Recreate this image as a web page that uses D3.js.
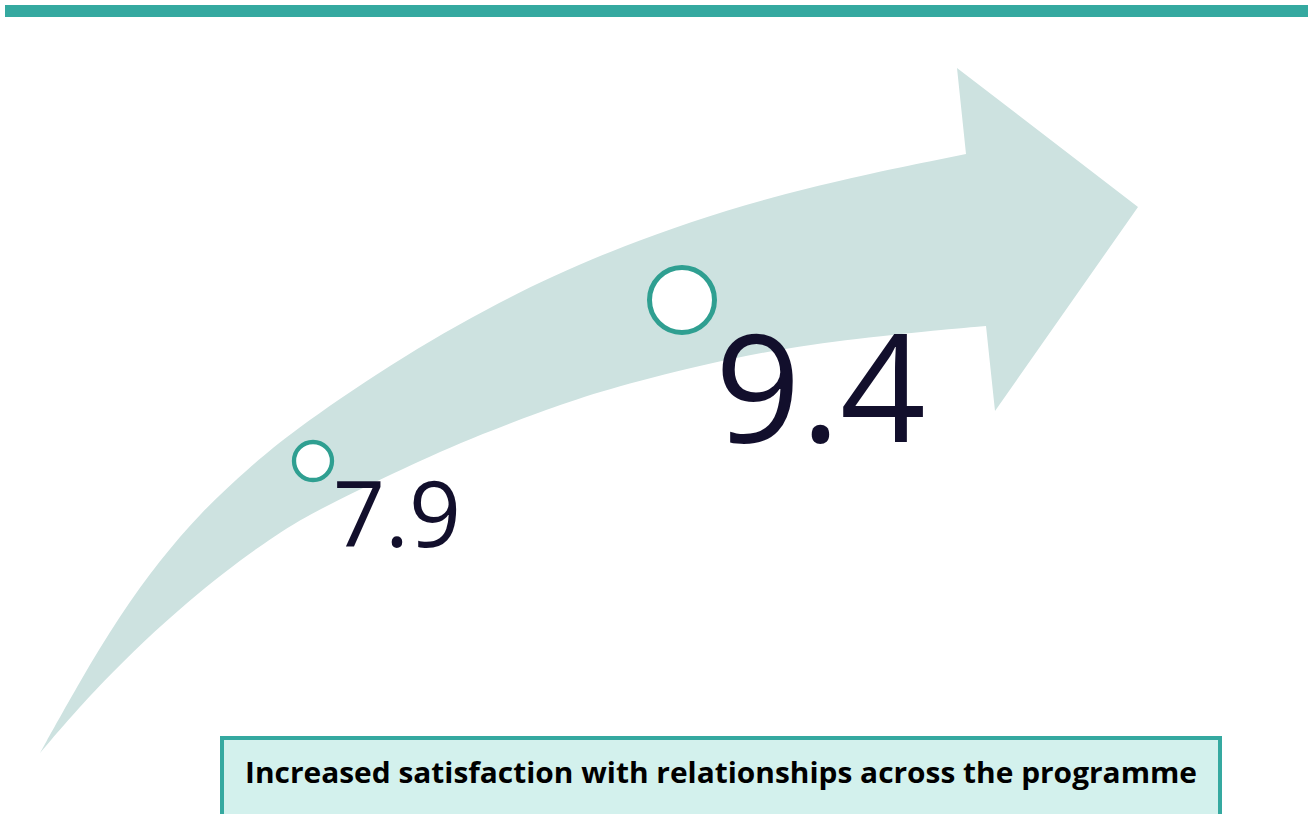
<!DOCTYPE html>
<html>
<head>
<meta charset="utf-8">
<script src="https://cdn.jsdelivr.net/npm/d3@7"></script>
<style>
  html, body { margin: 0; padding: 0; background: #ffffff; }
  svg { display: block; }
</style>
</head>
<body>
<svg id="chart" width="1313" height="814"></svg>
<script>
// Satisfaction scores at the start and end of the programme
const stages = ["Start", "End"];
const scores = [7.9, 9.4];
const caption = "Increased satisfaction with relationships across the programme";

// Outline of the sweeping arrow: upper edge, head, lower edge back to the tail
const arrowUpper = [[40, 753], [80, 681], [120, 615], [160, 560], [200, 513], [250, 467], [290, 433], [390, 364], [497, 302], [617, 246], [783, 191], [966, 154]];
const arrowHead = [[966, 154], [957, 68], [1138, 207], [995, 411], [986, 326]];
const arrowLower = [[986, 326], [950, 329], [860, 338], [750, 353], [630, 383], [573, 400], [480, 434], [400, 470], [338, 500], [280, 530], [187, 600], [100, 683], [40, 753]];

const colors = {
  bar: "#35a9a0",
  arrow: "#cde2e0",
  ring: "#2f9f91",
  text: "#120f2c",
  boxFill: "#d3f1ed",
  boxStroke: "#35a9a0"
};

const svg = d3.select("#chart");

// Top accent bar
svg.append("rect")
  .attr("x", 5).attr("y", 5)
  .attr("width", 1303).attr("height", 12)
  .attr("fill", colors.bar);

// Curved arrow body: smoothed edges joined by the straight-sided head
const smooth = d3.line().curve(d3.curveBasis);
const upperD = smooth(arrowUpper);
const headD = "L" + arrowHead.slice(1).map(p => p.join(",")).join("L");
const lowerD = smooth(arrowLower).replace(/^M[^LC]*/, "L" + arrowLower[0].join(","));
svg.append("path")
  .attr("d", upperD + headD + lowerD + "Z")
  .attr("fill", colors.arrow);

// Scales placing each score along the arrow and sizing its marker and label
const ext = d3.extent(scores);
const xPos = d3.scaleLinear().domain(ext).range([313, 682]);
const yPos = d3.scaleLinear().domain(ext).range([461, 300]);
const radius = d3.scaleLinear().domain(ext).range([19, 32.5]);
const ringWidth = d3.scaleLinear().domain(ext).range([4.3, 5]);
const fontSize = d3.scaleLinear().domain(ext).range([91, 150]);
const fmt = d3.format(".1f");

const points = stages.map((s, i) => ({ stage: s, value: scores[i] }));

const g = svg.append("g");
g.selectAll("circle.marker")
  .data(points)
  .join("circle")
  .attr("class", "marker")
  .attr("cx", d => xPos(d.value))
  .attr("cy", d => yPos(d.value))
  .attr("r", d => radius(d.value))
  .attr("fill", "#ffffff")
  .attr("stroke", colors.ring)
  .attr("stroke-width", d => ringWidth(d.value));

// Score labels sit below-right of each marker
g.selectAll("text.score")
  .data(points)
  .join("text")
  .attr("class", "score")
  .attr("x", d => xPos(d.value) + radius(d.value) * 0.95 + 2)
  .attr("y", d => yPos(d.value) + fontSize(d.value) * 0.945)
  .attr("font-family", "'Open Sans', 'Noto Sans', sans-serif")
  .attr("font-size", d => fontSize(d.value))
  .attr("fill", colors.text)
  .text(d => fmt(d.value));

// Caption box
svg.append("rect")
  .attr("x", 222).attr("y", 738)
  .attr("width", 998).attr("height", 100)
  .attr("fill", colors.boxFill)
  .attr("stroke", colors.boxStroke)
  .attr("stroke-width", 4);

svg.append("text")
  .attr("x", 721).attr("y", 783)
  .attr("text-anchor", "middle")
  .attr("font-family", "'Open Sans', 'Noto Sans', sans-serif")
  .attr("font-weight", 700)
  .attr("font-size", 29)
  .attr("textLength", 952)
  .attr("lengthAdjust", "spacingAndGlyphs")
  .attr("fill", "#000000")
  .text(caption);
</script>
</body>
</html>
